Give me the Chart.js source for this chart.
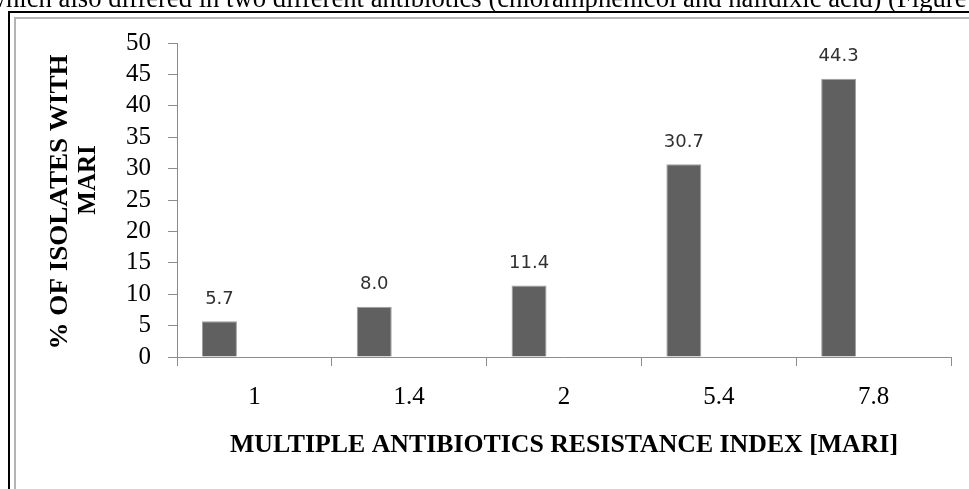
<!DOCTYPE html>
<html><head><meta charset="utf-8">
<script src="https://cdn.jsdelivr.net/npm/chart.js@4.4.1/dist/chart.umd.min.js"></script>
<style>html,body{margin:0;padding:0;background:#fff;overflow:hidden}canvas{display:block}</style>
</head><body>
<canvas id="c" width="969" height="489"></canvas>
<script>
const categories = ['1', '1.4', '2', '5.4', '7.8'];
const isolatesPct = [5.7, 8.0, 11.4, 30.7, 44.3];
const emptySeries = [null, null, null, null, null];
const yMin = 0, yMax = 50, yStep = 5;
const xTitle = 'MULTIPLE ANTIBIOTICS RESISTANCE INDEX [MARI]';
const yTitleLines = ['% OF ISOLATES WITH', 'MARI'];
const topTextCut = 'w';
const topText = 'hich also differed in two different antibiotics (chloramphenicol and nalidixic acid) (Figure';

const SERIF = '"Liberation Serif", "Times New Roman", serif';

function drawFitted(ctx, text, cx, cy, targetWidth, baseSize) {
  ctx.font = 'bold ' + baseSize + 'px ' + SERIF;
  const w = ctx.measureText(text).width;
  ctx.save();
  ctx.translate(cx, cy);
  ctx.scale(targetWidth / w, 1);
  ctx.fillText(text, 0, 0);
  ctx.restore();
}

const framePlugin = {
  id: 'frame',
  beforeDraw(chart) {
    const ctx = chart.ctx;
    ctx.save();
    ctx.fillStyle = '#fff';
    ctx.fillRect(0, 0, chart.width, chart.height);
    ctx.font = '20px ' + SERIF;
    const w = ctx.measureText(topText).width;
    const size = 20 * (967 - 6) / w;
    ctx.font = size + 'px ' + SERIF;
    const cw = ctx.measureText(topTextCut).width;
    ctx.fillStyle = '#000';
    ctx.textBaseline = 'alphabetic';
    ctx.textAlign = 'left';
    ctx.fillText(topTextCut + topText, 6 - cw, 7);
    ctx.fillStyle = '#000';
    ctx.fillRect(8, 11, 2, chart.height - 11);
    ctx.fillRect(8, 11, chart.width - 8, 2);
    ctx.fillStyle = '#b4b4b4';
    ctx.fillRect(14, 17, 2, chart.height - 17);
    ctx.fillRect(14, 17, chart.width - 14, 2);
    ctx.restore();
  },
  afterDraw(chart) {
    const ctx = chart.ctx;
    const area = chart.chartArea;
    ctx.save();
    ctx.fillStyle = '#000';
    ctx.textAlign = 'center';
    ctx.textBaseline = 'middle';
    drawFitted(ctx, xTitle, (area.left + area.right) / 2, 446, 668, 25);
    ctx.save();
    ctx.translate(61, 202);
    ctx.rotate(-Math.PI / 2);
    drawFitted(ctx, yTitleLines[0], 0, 0, 295, 25);
    ctx.restore();
    ctx.save();
    ctx.translate(89, 180);
    ctx.rotate(-Math.PI / 2);
    ctx.font = 'bold 25px ' + SERIF;
    ctx.fillText(yTitleLines[1], 0, 0);
    ctx.restore();
    ctx.restore();
  }
};

const labelPlugin = {
  id: 'valueLabels',
  afterDatasetsDraw(chart) {
    const ctx = chart.ctx;
    const meta = chart.getDatasetMeta(0);
    ctx.save();
    ctx.fillStyle = '#303030';
    ctx.font = '18px "DejaVu Sans", Verdana, sans-serif';
    ctx.textAlign = 'center';
    ctx.textBaseline = 'middle';
    meta.data.forEach((bar, i) => {
      ctx.fillText(isolatesPct[i].toFixed(1), bar.x, bar.y - 22);
    });
    ctx.restore();
  }
};

new Chart(document.getElementById('c'), {
  type: 'bar',
  data: {
    labels: categories,
    datasets: [
      { data: isolatesPct, backgroundColor: '#606060', borderColor: '#a0a0a0', borderWidth: 1 },
      { data: emptySeries, backgroundColor: '#606060' }
    ]
  },
  options: {
    responsive: false,
    animation: false,
    devicePixelRatio: 1,
    categoryPercentage: 0.903,
    barPercentage: 0.5,
    layout: { padding: { left: 0, right: 18, top: 43, bottom: 0 } },
    plugins: { legend: { display: false }, tooltip: { enabled: false } },
    scales: {
      x: {
        grid: { drawOnChartArea: false, drawTicks: true, tickLength: 9, color: '#8c8c8c', offset: true },
        border: { color: '#8c8c8c' },
        ticks: { font: { family: SERIF, size: 25 }, color: '#000', padding: 16, maxRotation: 0, autoSkip: false },
        afterFit(scale) { scale.height = 132; }
      },
      y: {
        min: yMin, max: yMax,
        grid: { drawOnChartArea: false, drawTicks: true, tickLength: 9, color: '#8c8c8c' },
        border: { color: '#8c8c8c' },
        ticks: { stepSize: yStep, font: { family: SERIF, size: 25 }, color: '#000', padding: 17, autoSkip: false },
        afterFit(scale) { scale.width = 177; }
      }
    }
  },
  plugins: [framePlugin, labelPlugin]
});
</script>
</body></html>
